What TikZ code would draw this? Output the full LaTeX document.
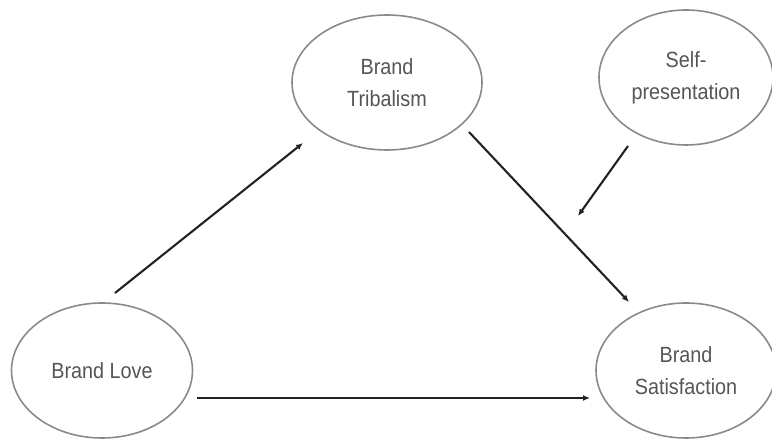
\documentclass[tikz,border=0pt]{standalone}
\usepackage{fontspec}
\setmainfont{Liberation Sans}[FakeStretch=0.9]
\usetikzlibrary{arrows.meta,calc,shapes.geometric}
\definecolor{ringgray}{HTML}{8A8A8A}
\definecolor{labelgray}{HTML}{555555}
\definecolor{arrowdark}{HTML}{222222}
\begin{document}
\begin{tikzpicture}[x=1pt,y=1pt,
  construct/.style={ellipse, draw=ringgray, line width=1.6pt, inner sep=0pt,
    text=labelgray, align=center, font=\fontsize{22}{32}\selectfont},
  linkarrow/.style={draw=arrowdark, line width=2.1pt,
    -{Latex[length=7pt,width=6pt]}}
]
\useasboundingbox (0,0) rectangle (772,441);
% constructs
\node[construct, minimum width=190, minimum height=135] (trib) at (387,358.5) {Brand\\Tribalism};
\node[construct, minimum width=174, minimum height=135] (self) at (686,363.5) {Self-\\presentation};
\node[construct, minimum width=181, minimum height=135] (love) at (102,70.5) {Brand Love};
\node[construct, minimum width=180, minimum height=135] (sat) at (686,70.5) {Brand\\Satisfaction};
% moderator arrow points at the tribalism-satisfaction path
\coordinate (mod) at (578,225);
% paths
\draw[linkarrow] ($(love)+(13,77.5)$) -- ($(trib)+(-84,-60.5)$);
\draw[linkarrow] ($(trib)+(82,-49.5)$) -- ($(sat)+(-57,68.5)$);
\draw[linkarrow] ($(self)+(-58,-68.5)$) -- (mod);
\draw[linkarrow] ($(love)+(95,-27.5)$) -- ($(sat)+(-96,-27.5)$);
\end{tikzpicture}
\end{document}
